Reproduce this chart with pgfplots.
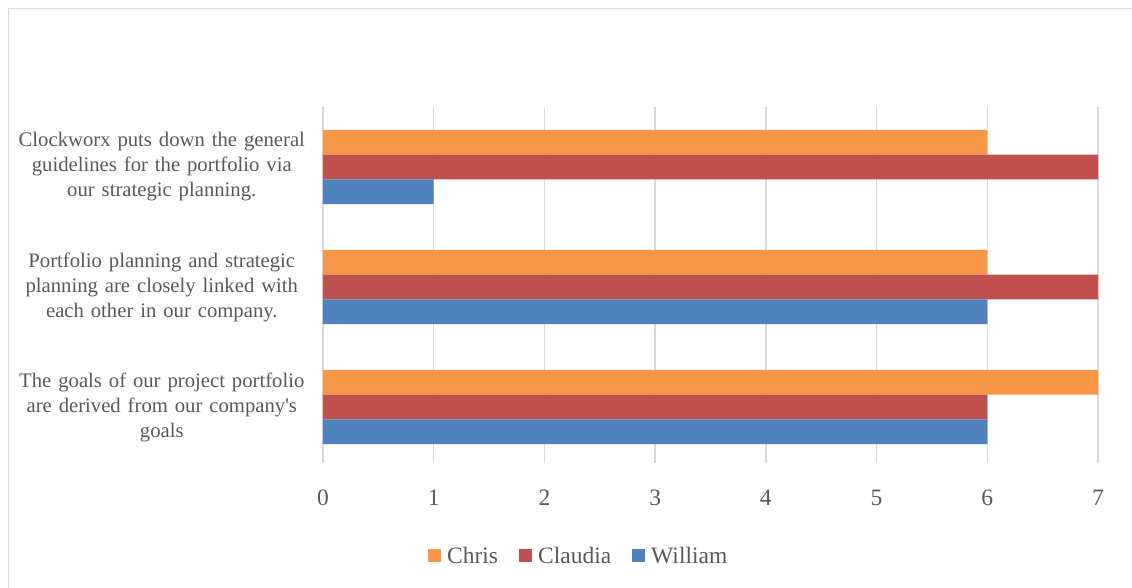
\documentclass[border=0pt]{standalone}
\usepackage{fontspec}
\setmainfont{Liberation Serif}
\usepackage{pgfplots}
\pgfplotsset{compat=1.18}
\definecolor{chris}{HTML}{F79646}
\definecolor{claudia}{HTML}{C0504D}
\definecolor{william}{HTML}{4F81BD}
\definecolor{gridgray}{HTML}{D9D9D9}
\definecolor{txt}{HTML}{595959}

\pgfplotsset{
  sq legend/.style={legend image code/.code={%
    \fill[##1] (0pt,-6.5pt) rectangle (13pt,6.5pt);
    \path (17pt,0pt);}},
}

\begin{document}
\begin{tikzpicture}[x=1pt,y=1pt]
\useasboundingbox (0,0) rectangle (1132,587);
% chart frame
\draw[gridgray, line width=1.5pt] (8.5,-1) -- (8.5,578.5) -- (1133,578.5);
\begin{axis}[
  at={(323pt,124pt)}, anchor=south west,
  scale only axis, width=775pt, height=356pt,
  xbar, bar width=24.7pt,
  xmin=0, xmax=7, ymin=-0.467, ymax=2.5,
  xtick={0,1,2,3,4,5,6,7},
  ytick={0,1,2},
  yticklabels={
    {The goals of our project portfolio\\are derived from our company\textquotesingle s\\goals},
    {Portfolio planning and strategic\\planning are closely linked with\\each other in our company.},
    {Clockworx puts down the general\\guidelines for the portfolio via\\our strategic planning.}},
  axis line style={draw=none},
  major tick length=0pt,
  xmajorgrids,
  grid style={gridgray, line width=1.5pt},
  /pgf/number format/assume math mode=true,
  xticklabel style={font=\fontsize{23.5}{27}\selectfont, text=txt, inner sep=0pt, yshift=-27pt},
  yticklabel style={font=\fontsize{20.7}{25}\selectfont, text=txt, inner sep=0pt,
    text width=292pt, align=center, xshift=-15pt},
  legend style={at={(0.330,-0.261)}, anchor=center, draw=none,
    font=\fontsize{23.5}{28}\selectfont, text=txt,
    /tikz/every even column/.append style={column sep=19pt},
    cells={anchor=west}},
  legend columns=3,
  clip=false,
]
\addplot[fill=chris, draw=none, bar shift=24.7pt, sq legend]
  coordinates {(7,0) (6,1) (6,2)};
\addplot[fill=claudia, draw=none, bar shift=0pt, sq legend]
  coordinates {(6,0) (7,1) (7,2)};
\addplot[fill=william, draw=none, bar shift=-24.7pt, sq legend]
  coordinates {(6,0) (6,1) (1,2)};
\legend{Chris, Claudia, William}
\end{axis}
\end{tikzpicture}
\end{document}
